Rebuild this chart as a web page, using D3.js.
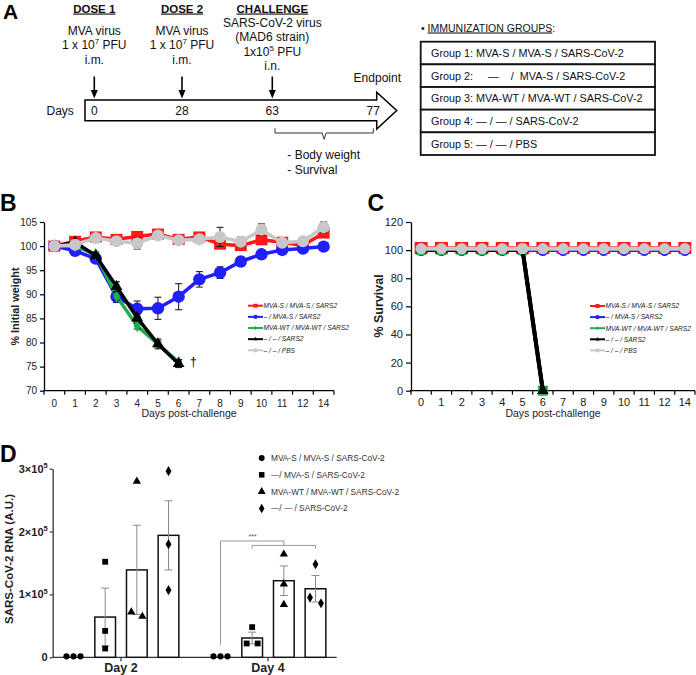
<!DOCTYPE html>
<html><head><meta charset="utf-8">
<script src="https://cdn.jsdelivr.net/npm/d3@7"></script>
<style>
body{margin:0;background:#fff}
svg{display:block}
text{font-family:"Liberation Sans",Arial,Helvetica,sans-serif}
</style>
</head><body>
<svg id="fig" width="696" height="675"></svg>
<script>
// ================= DATA =================
// Panel A: schedule
const scheduleDays = [0, 28, 63, 77];
const immunizationGroups = [
  "Group 1: MVA-S / MVA-S / SARS-CoV-2",
  "Group 2:\u00a0\u00a0\u00a0\u00a0\u00a0\u2014\u00a0\u00a0\u00a0\u00a0/\u00a0\u00a0MVA-S / SARS-CoV-2",
  "Group 3: MVA-WT / MVA-WT / SARS-CoV-2",
  "Group 4: \u2014 / \u2014 / SARS-CoV-2",
  "Group 5: \u2014 / \u2014 / PBS"
];

// Panels B & C: days post-challenge (categorical axis)
const days = ["0","1","2","3","4","5","6","7","8","9","10","11","12","14"];
const groupsBC = ["MVA-S / MVA-S / SARS2", "\u2013 / MVA-S / SARS2", "MVA-WT / MVA-WT / SARS2", "\u2013 / \u2013 / SARS2", "\u2013 / \u2013 / PBS"];

// Panel B: % initial weight (mean) and SEM
const weightG1 = [100, 101, 101.9, 101.4, 102, 102.5, 101.4, 101.9, 100.4, 100.1, 101.3, 100.8, 100.1, 102.7];
const weightG1Err = [0, 0.4, 0.5, 0.5, 0.8, 0.6, 0.5, 0.6, 0.8, 0.7, 0.6, 0.5, 0.6, 0.8];
const weightG2 = [100, 99, 97.4, 89.5, 87, 87.1, 89.5, 93.1, 94.5, 96.8, 98.3, 99.2, 99.5, 99.9];
const weightG2Err = [0, 0.3, 0.6, 1.2, 1.6, 2.3, 2.7, 1.6, 1.2, 1.0, 0.8, 0.5, 0.7, 0.5];
const weightG3 = [100, 100, 98.3, 89.6, 83.4, 79.7, 75.9];
const weightG3Err = [0, 0.3, 0.5, 0.8, 0.6, 0.6, 0.5];
const weightG4 = [100, 100.8, 98, 91.6, 85.1, 79.7, 75.6];
const weightG4Err = [0, 0.3, 0.5, 1.0, 0.7, 1.0, 0.8];
const weightG5 = [100, 100.3, 101.7, 101, 100.6, 102.2, 101.2, 101.4, 101.9, 100.9, 103.4, 100.7, 101, 103.9];
const weightG5Err = [0, 0.3, 0.5, 0.5, 1.2, 0.8, 0.5, 0.6, 2.0, 1.0, 1.2, 0.5, 0.8, 1.1];

// Panel C: % survival
const survG1 = [101.5, 101.5, 101.5, 101.5, 101.5, 101.5, 101.5, 101.5, 101.5, 101.5, 101.5, 101.5, 101.5, 101.5];
const survG2 = [99.5, 99.5, 99.5, 99.5, 99.5, 99.5, 99.5, 99.5, 99.5, 99.5, 99.5, 99.5, 99.5, 99.5];
const survG3 = [100, 100, 100, 100, 100, 100, 0];
const survG4 = [100, 100, 100, 100, 100, 100, 0];
const survG5 = [101, 101, 101, 101, 101, 101, 101, 101, 101, 101, 101, 101, 101, 101];

// Panel D: SARS-CoV-2 RNA (A.U.)
const rnaDays = ["Day 2", "Day 4"];
const groupsD = ["MVA-S / MVA-S / SARS-CoV-2", "\u2014/ MVA-S / SARS-CoV-2", "MVA-WT / MVA-WT / SARS-CoV-2", "\u2014/ \u2014 / SARS-CoV-2"];
const rnaMeanDay2 = [0, 64000, 139000, 194000];
const rnaSemDay2 = [0, 46000, 71000, 55000];
const rnaMeanDay4 = [0, 30700, 121800, 109000];
const rnaSemDay4 = [0, 9300, 23500, 21000];
const rnaPointsDay2 = [[0, 0, 0], [152000, 42000, 14000], [280000, 72000, 65000], [296000, 180000, 107000]];
const rnaPointsDay4 = [[0, 0, 0], [48000, 22000, 22000], [164000, 116500, 84000], [148000, 95000, 86000]];
const rnaTicks = [0, 100000, 200000, 300000];

// ================= DRAWING =================
const svg = d3.select("#fig");

function panelLetter(t, x, y, fs) {
  svg.append("text").attr("x", x).attr("y", y).attr("font-size", fs).attr("font-weight", "bold").text(t);
}

// ---------- Panel A ----------
(function () {
  panelLetter("A", 3, 18.5, 21);
  const g = svg.append("g");
  const tl = d3.scaleLinear().domain(scheduleDays).range([94.3, 182, 272.3, 373.3]);
  const fs = 12;
  function heading(t, x) {
    g.append("text").attr("x", x).attr("y", 12.5).attr("text-anchor", "middle")
      .attr("font-size", 11.5).attr("font-weight", "bold").attr("fill", "#111")
      .attr("text-decoration", "underline").text(t);
  }
  heading("DOSE 1", tl(0));
  heading("DOSE 2", tl(28));
  heading("CHALLENGE", tl(63));
  function dose(x) {
    g.append("text").attr("x", x).attr("y", 34.7).attr("text-anchor", "middle").attr("font-size", fs).attr("fill", "#111").text("MVA virus");
    const t1 = g.append("text").attr("x", x).attr("y", 49.3).attr("text-anchor", "middle").attr("font-size", fs).attr("fill", "#111");
    t1.append("tspan").text("1 x 10");
    t1.append("tspan").attr("font-size", 8).attr("dy", -5).text("7");
    t1.append("tspan").attr("dy", 5).text(" PFU");
    g.append("text").attr("x", x).attr("y", 63.5).attr("text-anchor", "middle").attr("font-size", fs).attr("fill", "#111").text("i.m.");
  }
  dose(tl(0)); dose(tl(28));
  const cx = tl(63);
  g.append("text").attr("x", cx).attr("y", 27.3).attr("text-anchor", "middle").attr("font-size", fs).attr("fill", "#111").text("SARS-CoV-2 virus");
  g.append("text").attr("x", cx).attr("y", 41.3).attr("text-anchor", "middle").attr("font-size", fs).attr("fill", "#111").text("(MAD6 strain)");
  const t5 = g.append("text").attr("x", cx).attr("y", 55.7).attr("text-anchor", "middle").attr("font-size", fs).attr("fill", "#111");
  t5.append("tspan").text("1x10");
  t5.append("tspan").attr("font-size", 8).attr("dy", -5).text("5");
  t5.append("tspan").attr("dy", 5).text(" PFU");
  g.append("text").attr("x", cx).attr("y", 70).attr("text-anchor", "middle").attr("font-size", fs).attr("fill", "#111").text("i.n.");

  // big timeline arrow
  const xL = tl(0) - 9.3, xR = tl(77) + 3.4;
  g.append("path").attr("d", `M${xL},100 H${xR} V92.3 L${xR + 20},110.5 L${xR},129 V120.7 H${xL} Z`)
    .attr("fill", "#fff").attr("stroke", "#000").attr("stroke-width", 1.5);
  // down arrows
  [0, 28, 63].forEach(d => {
    const x = tl(d);
    g.append("line").attr("x1", x).attr("x2", x).attr("y1", 76.5).attr("y2", 92).attr("stroke", "#000").attr("stroke-width", 1.6);
    g.append("path").attr("d", `M${x - 3.5},90 L${x + 3.5},90 L${x},98.5 Z`).attr("fill", "#000");
  });
  // day labels
  g.append("text").attr("x", 46.5).attr("y", 115).attr("font-size", fs).attr("fill", "#111").text("Days");
  scheduleDays.forEach(d => {
    g.append("text").attr("x", tl(d)).attr("y", 115).attr("text-anchor", "middle").attr("font-size", fs).attr("fill", "#111").text(d);
  });
  g.append("text").attr("x", tl(77) + 4).attr("y", 81.7).attr("text-anchor", "middle").attr("font-size", fs).attr("fill", "#111").text("Endpoint");
  // brace
  const b0 = tl(63) + 2.7, b1 = tl(77), bm = (b0 + b1) / 2;
  g.append("path").attr("d", `M${b0},128.3 V133 H${bm - 2} L${bm},139.3 L${bm + 2},133 H${b1} V128.3`)
    .attr("fill", "none").attr("stroke", "#333").attr("stroke-width", 1);
  g.append("text").attr("x", 287.3).attr("y", 159.3).attr("font-size", fs).attr("fill", "#111").text("- Body weight");
  g.append("text").attr("x", 287.3).attr("y", 174).attr("font-size", fs).attr("fill", "#111").text("- Survival");

  // immunization groups
  const hdr = g.append("text").attr("x", 421).attr("y", 31.5).attr("font-size", 10.5).attr("fill", "#111");
  hdr.append("tspan").text("\u2022 ");
  hdr.append("tspan").attr("text-decoration", "underline").text("IMMUNIZATION GROUPS");
  hdr.append("tspan").text(":");
  const rowY = d3.scaleBand().domain(d3.range(immunizationGroups.length)).range([41.7, 155]);
  const boxX0 = 420.7, boxX1 = 655;
  immunizationGroups.forEach((t, i) => {
    g.append("rect").attr("x", boxX0).attr("y", rowY(i)).attr("width", boxX1 - boxX0).attr("height", rowY.bandwidth())
      .attr("fill", "#fff").attr("stroke", "#111").attr("stroke-width", 1.8);
    g.append("text").attr("x", 431).attr("y", rowY(i) + rowY.bandwidth() / 2 + 3.9).attr("font-size", 10.8).attr("fill", "#111").text(t);
  });
})();

// ---------- shared helpers for B & C ----------
const styles = [
  { color: "#ff1a1a", marker: "square", w: 12, h: 11, lw: 3.5 },
  { color: "#1f1fff", marker: "circle", r: 6.2, lw: 3.5 },
  { color: "#1fae4f", marker: "diamond", size: 45, lw: 3.5 },
  { color: "#000000", marker: "triangle", size: 60, lw: 3.5 },
  { color: "#c8c8c8", marker: "circle", r: 6, lw: 3.5 }
];

function marker(g, st, cx, cy, scale) {
  const s = scale || 1;
  if (st.marker === "square") {
    g.append("rect").attr("x", cx - st.w * s / 2).attr("y", cy - st.h * s / 2).attr("width", st.w * s).attr("height", st.h * s).attr("fill", st.color);
  } else if (st.marker === "circle") {
    g.append("circle").attr("cx", cx).attr("cy", cy).attr("r", st.r * s).attr("fill", st.color);
  } else {
    const sym = st.marker === "diamond" ? d3.symbolDiamond : d3.symbolTriangle;
    g.append("path").attr("d", d3.symbol(sym, st.size * s * s)()).attr("transform", `translate(${cx},${cy})`).attr("fill", st.color);
  }
}

function drawSeries(g, x, y, vals, errs, st) {
  const cxOf = i => x(days[i]) + x.bandwidth() / 2;
  const gg = g.append("g");
  gg.append("path").datum(vals).attr("d", d3.line().x((v, i) => cxOf(i)).y(v => y(v)))
    .attr("fill", "none").attr("stroke", st.color).attr("stroke-width", st.lw).attr("stroke-linejoin", "round");
  if (errs) {
    vals.forEach((v, i) => {
      const e = errs[i];
      if (!e) return;
      const cx = cxOf(i), yt = y(v + e), yb = y(v - e);
      gg.append("path").attr("d", `M${cx},${yb}V${yt}M${cx - 3.5},${yt}H${cx + 3.5}M${cx - 3.5},${yb}H${cx + 3.5}`)
        .attr("stroke", "#111").attr("stroke-width", 1).attr("fill", "none");
    });
  }
  vals.forEach((v, i) => marker(gg, st, cxOf(i), y(v)));
}

function legend(g, x0, y0, dy) {
  groupsBC.forEach((t, i) => {
    const st = styles[i], y = y0 + i * dy;
    g.append("line").attr("x1", x0).attr("x2", x0 + 15).attr("y1", y).attr("y2", y).attr("stroke", st.color).attr("stroke-width", 2);
    marker(g, st, x0 + 7.5, y, 0.35);
    g.append("text").attr("x", x0 + 15.5).attr("y", y).attr("dy", "0.35em").attr("font-size", 6.6).attr("font-style", "italic").attr("fill", "#222").text(t);
  });
}

function catAxis(g, x, yPos, fs, labelY) {
  const r = x.range();
  g.append("line").attr("x1", r[0] - 1).attr("x2", r[1]).attr("y1", yPos).attr("y2", yPos).attr("stroke", "#000").attr("stroke-width", 1.3);
  d3.range(days.length + 1).forEach(i => {
    const xx = r[0] + i * x.step();
    g.append("line").attr("x1", xx).attr("x2", xx).attr("y1", yPos).attr("y2", yPos + 4).attr("stroke", "#000").attr("stroke-width", 1.2);
  });
  g.selectAll(null).data(days).enter().append("text")
    .attr("x", d => x(d) + x.bandwidth() / 2).attr("y", labelY).attr("text-anchor", "middle")
    .attr("font-size", fs).attr("fill", "#222").text(d => d);
}

function styleYAxis(ax, fs) {
  ax.select(".domain").attr("stroke", "#000").attr("stroke-width", 1.3);
  ax.selectAll(".tick line").attr("stroke", "#000").attr("stroke-width", 1.2);
  ax.selectAll(".tick text").attr("font-size", fs).attr("fill", "#222").attr("font-family", "Liberation Sans, Arial, sans-serif");
}

// ---------- Panel B ----------
(function () {
  panelLetter("B", 0, 210.7, 23);
  const g = svg.append("g");
  const x = d3.scaleBand().domain(days).range([44, 334]);
  const y = d3.scaleLinear().domain([70, 105]).range([390.7, 222]);
  const ax = g.append("g").attr("transform", "translate(44,0)")
    .call(d3.axisLeft(y).tickValues(d3.range(70, 106, 5)).tickSize(4).tickPadding(3).tickSizeOuter(0));
  styleYAxis(ax, 10);
  catAxis(g, x, 390.7, 10, 406.5);
  g.append("text").attr("transform", "translate(18.5,306.5) rotate(-90)").attr("text-anchor", "middle")
    .attr("font-size", 10.8).attr("font-weight", "bold").attr("fill", "#222").text("% Initial weight");
  g.append("text").attr("x", 189).attr("y", 417).attr("text-anchor", "middle").attr("font-size", 10.5).attr("fill", "#222").text("Days post-challenge");

  drawSeries(g, x, y, weightG1, weightG1Err, styles[0]);
  drawSeries(g, x, y, weightG2, weightG2Err, styles[1]);
  drawSeries(g, x, y, weightG3, weightG3Err, styles[2]);
  drawSeries(g, x, y, weightG4, weightG4Err, styles[3]);
  drawSeries(g, x, y, weightG5, weightG5Err, styles[4]);
  const lastIdx = weightG4.length - 1;
  g.append("text").attr("x", x(days[lastIdx]) + x.bandwidth() / 2 + 11).attr("y", y(weightG4[lastIdx]) + 2)
    .attr("font-size", 13).attr("fill", "#111").text("\u2020");
  legend(g, 248, 305.7, 11.15);
})();

// ---------- Panel C ----------
(function () {
  panelLetter("C", 367.5, 210.5, 23);
  const g = svg.append("g");
  const x = d3.scaleBand().domain(days).range([411, 695]);
  const y = d3.scaleLinear().domain([0, 120]).range([390.7, 222]);
  const ax = g.append("g").attr("transform", "translate(411,0)")
    .call(d3.axisLeft(y).tickValues(d3.range(0, 121, 20)).tickSize(5).tickPadding(3).tickSizeOuter(0));
  styleYAxis(ax, 11);
  catAxis(g, x, 390.7, 11, 405.7);
  g.append("text").attr("transform", "translate(383,306) rotate(-90)").attr("text-anchor", "middle")
    .attr("font-size", 12.5).attr("font-weight", "bold").attr("fill", "#222").text("% Survival");
  g.append("text").attr("x", 553).attr("y", 417).attr("text-anchor", "middle").attr("font-size", 10.5).attr("fill", "#222").text("Days post-challenge");

  const sq = Object.assign({}, styles[0], { w: 13, h: 12 });
  drawSeries(g, x, y, survG1, null, sq);
  drawSeries(g, x, y, survG2, null, Object.assign({}, styles[1], { r: 5.2, lw: 2.5 }));
  drawSeries(g, x, y, survG3, null, Object.assign({}, styles[2], { marker: "square", w: 10, h: 10 }));
  drawSeries(g, x, y, survG4, null, Object.assign({}, styles[3], { lw: 4, size: 55 }));
  drawSeries(g, x, y, survG5, null, Object.assign({}, styles[4], { r: 5.6, lw: 4 }));
  // falling segment of black on top of gray
  const cxOf = i => x(days[i]) + x.bandwidth() / 2;
  const n = survG4.length;
  g.append("path").datum(survG4.slice(n - 2)).attr("d", d3.line().x((v, i) => cxOf(n - 2 + i)).y(v => y(v)))
    .attr("stroke", "#000").attr("stroke-width", 4).attr("fill", "none");
  g.append("circle").attr("cx", cxOf(n - 2)).attr("cy", y(survG5[n - 2])).attr("r", 5.6).attr("fill", styles[4].color);
  marker(g, Object.assign({}, styles[3], { size: 55 }), cxOf(n - 1), y(survG4[n - 1]));
  legend(g, 590, 306, 11.1);
})();

// ---------- Panel D ----------
(function () {
  panelLetter("D", 0, 461.7, 23);
  const g = svg.append("g");
  const yD = d3.scaleLinear().domain([0, 300000]).range([657.3, 468.7]);
  const xDay = d3.scalePoint().domain(rnaDays).range([121, 268]);
  const xGrp = d3.scalePoint().domain(groupsD).range([-47.5, 47.5]);
  const barW = 20.7;
  const means = { "Day 2": rnaMeanDay2, "Day 4": rnaMeanDay4 };
  const sems = { "Day 2": rnaSemDay2, "Day 4": rnaSemDay4 };
  const pts = { "Day 2": rnaPointsDay2, "Day 4": rnaPointsDay4 };

  // y axis
  const ax = g.append("g").attr("transform", "translate(52.7,0)")
    .call(d3.axisLeft(yD).tickValues(rnaTicks).tickSize(3).tickPadding(2).tickSizeOuter(0).tickFormat(""));
  ax.select(".domain").attr("stroke", "#333").attr("stroke-width", 1.3);
  ax.selectAll(".tick line").attr("stroke", "#333").attr("stroke-width", 1.2);
  ax.selectAll(".tick text").each(function (d) {
    const t = d3.select(this).attr("font-size", 11).attr("font-weight", "bold").attr("fill", "#222")
      .attr("font-family", "Liberation Sans, Arial, sans-serif");
    if (d === 0) { t.text("0"); return; }
    t.append("tspan").text(d / 100000 + "\u00d710");
    t.append("tspan").attr("font-size", 7.5).attr("dy", -4.5).text("5");
  });
  g.append("text").attr("transform", "translate(12.5,559) rotate(-90)").attr("text-anchor", "middle")
    .attr("font-size", 11.5).attr("font-weight", "bold").attr("fill", "#222").text("SARS-CoV-2 RNA (A.U.)");

  // x axis
  g.append("line").attr("x1", 52.7).attr("x2", 336.7).attr("y1", yD(0)).attr("y2", yD(0)).attr("stroke", "#333").attr("stroke-width", 1.3);
  rnaDays.forEach(d => {
    g.append("line").attr("x1", xDay(d)).attr("x2", xDay(d)).attr("y1", yD(0)).attr("y2", yD(0) + 4).attr("stroke", "#333").attr("stroke-width", 1.2);
    g.append("text").attr("x", xDay(d)).attr("y", 671.5).attr("text-anchor", "middle").attr("font-size", 12.5)
      .attr("font-weight", "bold").attr("fill", "#222").text(d);
  });

  const markerTypes = ["circle", "square", "triangle", "diamond"];
  function dMarker(sel, type, cx, cy, k) {
    const s = k || 1;
    if (type === "circle") sel.append("circle").attr("cx", cx).attr("cy", cy).attr("r", 3.1 * s).attr("fill", "#000");
    else if (type === "square") sel.append("rect").attr("x", cx - 2.9 * s).attr("y", cy - 2.9 * s).attr("width", 5.8 * s).attr("height", 5.8 * s).attr("fill", "#000");
    else {
      const sym = type === "triangle" ? d3.symbolTriangle : d3.symbolDiamond;
      sel.append("path").attr("d", d3.symbol(sym, (type === "triangle" ? 30 : 30) * s * s)()).attr("transform", `translate(${cx},${cy})`).attr("fill", "#000");
    }
  }

  rnaDays.forEach(d => {
    groupsD.forEach((grp, gi) => {
      const cx = xDay(d) + xGrp(grp);
      const m = means[d][gi], e = sems[d][gi];
      if (m > 0) {
        g.append("rect").attr("x", cx - barW / 2).attr("y", yD(m)).attr("width", barW).attr("height", yD(0) - yD(m))
          .attr("fill", "#fff").attr("stroke", "#111").attr("stroke-width", 1.5);
        const yt = yD(m + e), yb = yD(m - e);
        g.append("path").attr("d", `M${cx},${yb}V${yt}M${cx - 4},${yt}H${cx + 4}M${cx - 4},${yb}H${cx + 4}`)
          .attr("stroke", "#8a8a8a").attr("stroke-width", 1).attr("fill", "none");
      }
      // points with simple de-overlap (cluster within 9 px spread horizontally)
      const vals = pts[d][gi].slice().sort((a, b) => b - a);
      const used = new Array(vals.length).fill(false);
      vals.forEach((v, i) => {
        if (used[i]) return;
        const cluster = [i];
        for (let j = i + 1; j < vals.length; j++) if (!used[j] && Math.abs(yD(vals[j]) - yD(v)) < 9) cluster.push(j);
        const spread = cluster.length === 1 ? [0] : cluster.length === 2 ? [-5.5, 5.5] : [-7, 0, 7];
        cluster.forEach((k, q) => {
          used[k] = true;
          const yy = Math.min(yD(vals[k]), yD(0) - 1);
          dMarker(g, markerTypes[gi], cx + spread[q], yy);
        });
      });
    });
  });

  // significance bracket
  const d4 = xDay("Day 4");
  const xa = d4 + xGrp(groupsD[0]), xb = d4 + xGrp(groupsD[1]), xc = d4 + xGrp(groupsD[2]), xd = d4 + xGrp(groupsD[3]);
  g.append("path").attr("d", `M${xa},${yD(20000)}V${yD(185000)}H${xc}V${yD(178000)}`)
    .attr("stroke", "#999").attr("stroke-width", 1).attr("fill", "none");
  g.append("path").attr("d", `M${xb},${yD(173000)}V${yD(178000)}H${xd}V${yD(173000)}`)
    .attr("stroke", "#999").attr("stroke-width", 1).attr("fill", "none");
  g.append("text").attr("x", (xa + xc) / 2 + 0.5).attr("y", yD(185000) - 1.5).attr("text-anchor", "middle")
    .attr("font-size", 7).attr("fill", "#555").text("***");

  // legend
  const ly = d3.scalePoint().domain(groupsD).range([458, 508.5]);
  groupsD.forEach((grp, gi) => {
    dMarker(g, markerTypes[gi], 261.7, ly(grp), 0.95);
    g.append("text").attr("x", 271).attr("y", ly(grp)).attr("dy", "0.35em").attr("font-size", 8.3).attr("fill", "#333").text(grp);
  });
})();
</script>
</body></html>
